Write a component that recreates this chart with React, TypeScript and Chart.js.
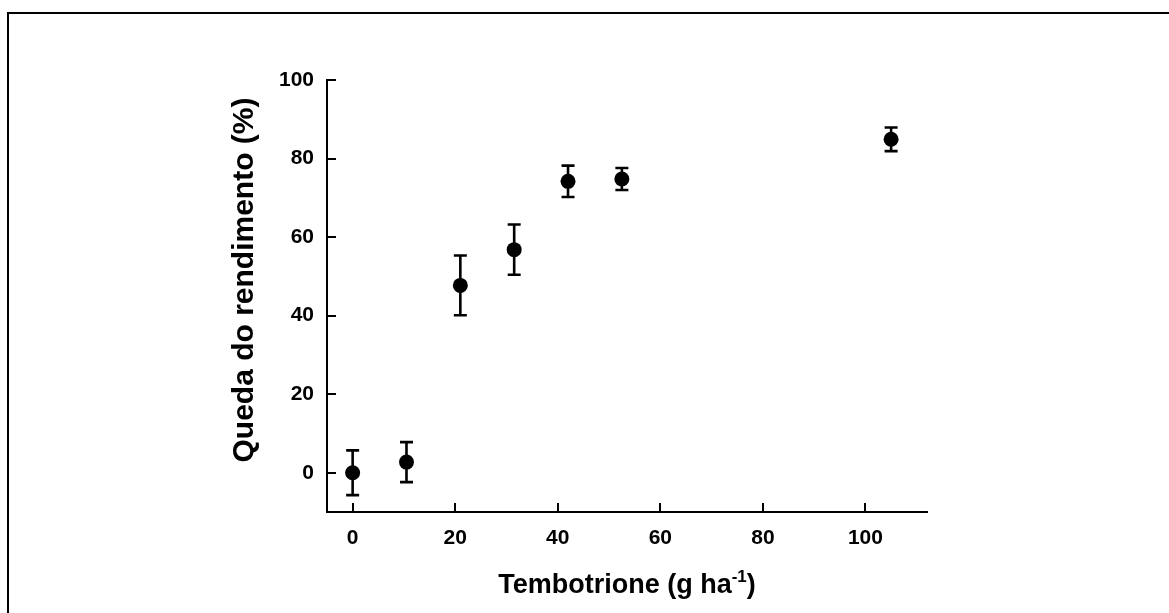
import React, { useEffect, useRef } from "react";
import { Chart, registerables } from "chart.js";

Chart.register(...registerables);

// ---- data ----
const doses = [0, 10.5, 21, 31.5, 42, 52.5, 105];
const yieldLoss = [0, 2.7, 47.7, 56.8, 74.2, 74.8, 84.9];
const errors = [5.7, 5.1, 7.6, 6.4, 4.0, 2.8, 3.0];
const xTicks = [0, 20, 40, 60, 80, 100];
const yTicks = [0, 20, 40, 60, 80, 100];
const xTitleMain = "Tembotrione (g ha";
const xTitleSup = "-1";
const xTitleEnd = ")";
const yTitle = "Queda do rendimento (%)";

const FONT = "'Liberation Sans', Arial, Helvetica, sans-serif";
const TICK_SIZE = 21;
const X_TITLE_SIZE = 27;
const Y_TITLE_SIZE = 30;

const W = 1169;
const H = 613;

const framePlugin = {
  id: "frame",
  afterDraw(chart: any) {
    const ctx = chart.ctx;
    ctx.save();
    ctx.strokeStyle = "#000";
    ctx.lineWidth = 2;
    ctx.beginPath();
    ctx.moveTo(8, H + 5);
    ctx.lineTo(8, 13);
    ctx.lineTo(W + 5, 13);
    ctx.stroke();
    ctx.restore();
  },
};

const tickMarksPlugin = {
  id: "tickMarks",
  afterDraw(chart: any) {
    const ctx = chart.ctx;
    const xs = chart.scales.x;
    const ys = chart.scales.y;
    const area = chart.chartArea;
    ctx.save();
    ctx.strokeStyle = "#000";
    ctx.lineWidth = 2;
    ctx.beginPath();
    xs.ticks.forEach((t: any) => {
      const px = Math.round(xs.getPixelForValue(t.value));
      ctx.moveTo(px, area.bottom);
      ctx.lineTo(px, area.bottom - 9);
    });
    ys.ticks.forEach((t: any) => {
      const py = Math.round(ys.getPixelForValue(t.value));
      ctx.moveTo(area.left, py);
      ctx.lineTo(area.left + 9, py);
    });
    ctx.stroke();
    ctx.restore();
  },
};

const errorBarsPlugin = {
  id: "errorBars",
  beforeDatasetsDraw(chart: any) {
    const ctx = chart.ctx;
    const xs = chart.scales.x;
    const ys = chart.scales.y;
    ctx.save();
    ctx.strokeStyle = "#000";
    ctx.lineWidth = 2.6;
    ctx.lineCap = "butt";
    doses.forEach((d, i) => {
      const px = xs.getPixelForValue(d);
      const top = ys.getPixelForValue(yieldLoss[i] + errors[i]);
      const bot = ys.getPixelForValue(yieldLoss[i] - errors[i]);
      ctx.beginPath();
      ctx.moveTo(px, top);
      ctx.lineTo(px, bot);
      ctx.moveTo(px - 6.5, top);
      ctx.lineTo(px + 6.5, top);
      ctx.moveTo(px - 6.5, bot);
      ctx.lineTo(px + 6.5, bot);
      ctx.stroke();
    });
    ctx.restore();
  },
};

const titlesPlugin = {
  id: "axisTitles",
  afterDraw(chart: any) {
    const ctx = chart.ctx;
    const area = chart.chartArea;
    ctx.save();
    ctx.fillStyle = "#000";
    // x title with superscript
    const mainFont = `bold ${X_TITLE_SIZE}px ${FONT}`;
    const supFont = `bold ${Math.round(X_TITLE_SIZE * 0.63)}px ${FONT}`;
    ctx.font = mainFont;
    const w1 = ctx.measureText(xTitleMain).width;
    const w3 = ctx.measureText(xTitleEnd).width;
    ctx.font = supFont;
    const w2 = ctx.measureText(xTitleSup).width;
    const total = w1 + w2 + w3;
    const cx = (area.left + area.right) / 2;
    let x = cx - total / 2;
    const baseY = 593;
    ctx.textBaseline = "alphabetic";
    ctx.textAlign = "left";
    ctx.font = mainFont;
    ctx.fillText(xTitleMain, x, baseY);
    x += w1;
    ctx.font = supFont;
    ctx.fillText(xTitleSup, x, baseY - 11);
    x += w2;
    ctx.font = mainFont;
    ctx.fillText(xTitleEnd, x, baseY);

    // y title rotated
    ctx.translate(245, 280);
    ctx.rotate(-Math.PI / 2);
    ctx.font = `bold ${Y_TITLE_SIZE}px ${FONT}`;
    ctx.textAlign = "center";
    ctx.textBaseline = "middle";
    ctx.fillText(yTitle, 0, 0);
    ctx.restore();
  },
};

export default function App() {
  const ref = useRef<HTMLCanvasElement | null>(null);
  useEffect(() => {
    if (!ref.current) return;
    const chart = new Chart(ref.current, {
      type: "scatter",
      data: {
        datasets: [
          {
            label: "Queda do rendimento",
            data: doses.map((d, i) => ({ x: d, y: yieldLoss[i] })),
            pointRadius: 7.5,
            pointHoverRadius: 7.5,
            pointBackgroundColor: "#000",
            pointBorderColor: "#000",
            pointBorderWidth: 0,
            showLine: false,
          },
        ],
      },
      options: {
        responsive: false,
        animation: false,
        events: [],
        layout: { padding: { left: 0, top: 80, right: W - 927, bottom: 0 } },
        plugins: {
          legend: { display: false },
          tooltip: { enabled: false },
          title: { display: false },
        },
        scales: {
          x: {
            type: "linear",
            min: -5,
            max: 112,
            afterBuildTicks: (s: any) => {
              s.ticks = xTicks.map((v) => ({ value: v }));
            },
            afterFit: (s: any) => {
              s.height = H - 512;
            },
            grid: { drawOnChartArea: false, drawTicks: false },
            border: { display: true, color: "#000", width: 2 },
            ticks: {
              color: "#000",
              padding: 14,
              maxRotation: 0,
              font: { family: FONT, size: TICK_SIZE, weight: "bold" },
            },
          },
          y: {
            type: "linear",
            min: -10,
            max: 100,
            afterBuildTicks: (s: any) => {
              s.ticks = yTicks.map((v) => ({ value: v }));
            },
            afterFit: (s: any) => {
              s.width = 327;
            },
            grid: { drawOnChartArea: false, drawTicks: false },
            border: { display: true, color: "#000", width: 2 },
            ticks: {
              color: "#000",
              padding: 13,
              font: { family: FONT, size: TICK_SIZE, weight: "bold" },
            },
          },
        },
      },
      plugins: [errorBarsPlugin, tickMarksPlugin, titlesPlugin, framePlugin],
    } as any);
    return () => chart.destroy();
  }, []);

  return (
    <div style={{ position: "fixed", left: 0, top: 0, width: W, height: H, background: "#fff" }}>
      <canvas ref={ref} width={W} height={H} style={{ display: "block", width: W, height: H }} />
    </div>
  );
}
